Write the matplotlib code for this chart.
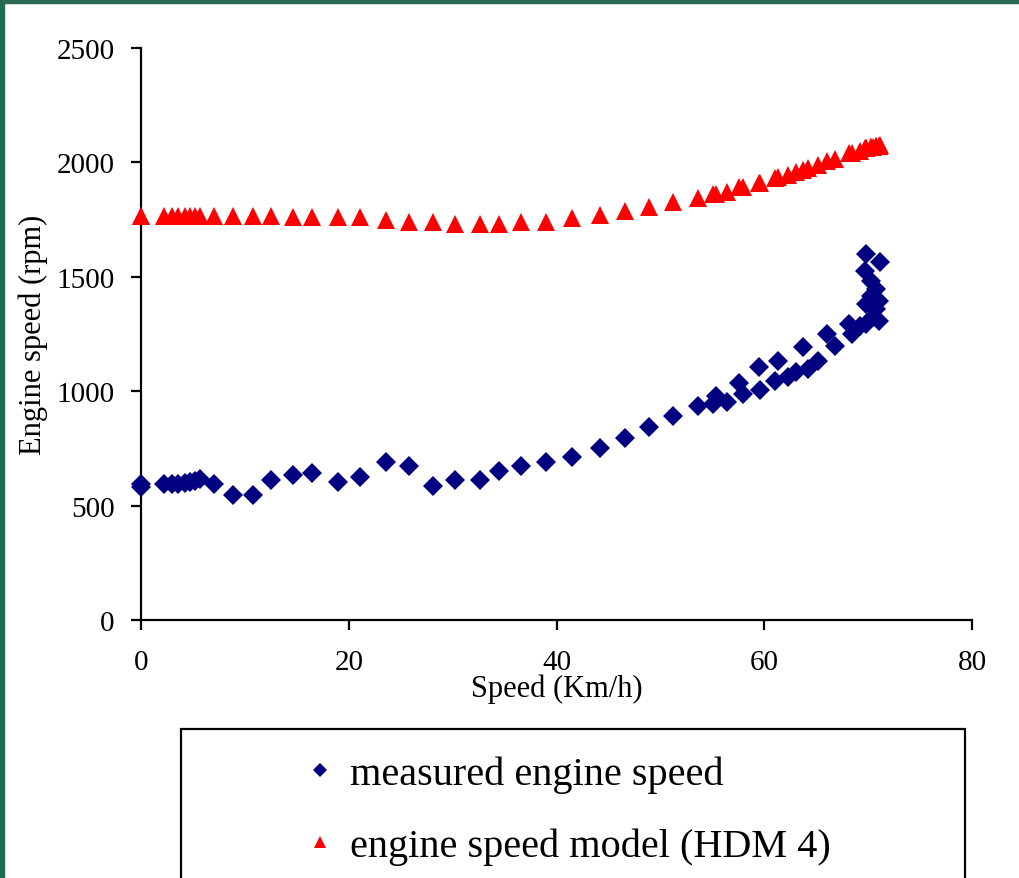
#!/usr/bin/python3
# -*- coding: utf-8 -*-
# Engine speed: measured vs HDM 4 model

import matplotlib
matplotlib.use("Agg")
import matplotlib.pyplot as plt
from matplotlib.patches import Rectangle

# Data
speed = [0, 0, 2.2, 3.0, 3.6, 4.2, 4.7, 5.2, 5.7, 7.0, 8.9, 10.8, 12.5, 14.6,
         16.5, 19.0, 21.1, 23.6, 25.8, 28.1, 30.2, 32.6, 34.5, 36.6, 39.0,
         41.5, 44.2, 46.6, 48.9, 51.2, 53.6, 55.1, 55.4, 56.4, 57.6, 58.0,
         59.5, 59.6, 61.0, 61.3, 62.3, 63.1, 63.7, 64.2, 65.2, 66.0, 66.8,
         68.2, 68.4, 69.2, 69.8, 70.5, 71.0, 70.8, 69.8, 71.0, 70.3, 70.8,
         70.3, 69.7, 71.1, 69.8]
measured = [580, 594, 596, 594, 594, 597, 602, 606, 616, 596, 548, 548, 612,
            634, 644, 605, 624, 689, 672, 584, 613, 613, 653, 672, 692, 711,
            750, 797, 845, 893, 935, 944, 980, 954, 1036, 988, 1104, 1007,
            1046, 1133, 1060, 1085, 1192, 1097, 1133, 1250, 1199, 1294, 1250,
            1286, 1294, 1323, 1308, 1359, 1381, 1396, 1417, 1447, 1483, 1527,
            1563, 1600]
model = [1765, 1765, 1765, 1765, 1765, 1765, 1765, 1765, 1765, 1765, 1764,
         1764, 1764, 1763, 1763, 1762, 1760, 1750, 1738, 1738, 1729, 1729,
         1729, 1738, 1738, 1759, 1768, 1787, 1806, 1825, 1843, 1862, 1864,
         1872, 1891, 1891, 1912, 1912, 1930, 1938, 1945, 1957, 1968, 1974,
         1989, 2008, 2015, 2041, 2041, 2051, 2062, 2068, 2072, 2070, 2062,
         2072, 2066, 2070, 2066, 2062, 2075, 2062]

labels = ["measured engine speed", "engine speed model (HDM 4)"]
xticks = [0, 20, 40, 60, 80]
yticks = [0, 500, 1000, 1500, 2000, 2500]

W, H = 1019, 879
plt.rcParams['font.family'] = ['Liberation Serif', 'DejaVu Serif']

fig = plt.figure(figsize=(W / 100, H / 100), dpi=100)
ax = fig.add_axes([141 / W, 1 - 621 / H, (972 - 141) / W, (621 - 49) / H])

l1, = ax.plot(speed, measured, linestyle='none', marker='D', ms=10,
              mew=0, color='#000080', clip_on=False, zorder=3)
l2, = ax.plot(speed, model, linestyle='none', marker='^', ms=12.5,
              mew=0, color='#ff0000', clip_on=False, zorder=3)

ax.set_xlim(0, 80)
ax.set_ylim(0, 2500)
ax.set_xticks(xticks)
ax.set_yticks(yticks)
for s in ['top', 'right']:
    ax.spines[s].set_visible(False)
for s in ['left', 'bottom']:
    ax.spines[s].set_linewidth(1.6)
ax.tick_params(axis='both', direction='out', length=7, width=1.6, labelsize=21)
ax.tick_params(axis='x', pad=14)
ax.tick_params(axis='y', pad=12)

ax.set_xlabel("Speed (Km/h)", fontsize=22, labelpad=-1)
ax.set_ylabel("Engine speed (rpm)", fontsize=22, labelpad=6)

# legend box
fig.patches.append(Rectangle((181 / W, -0.01), (965 - 181) / W, 0.01 + (879 - 730) / H,
                             transform=fig.transFigure, fill=False,
                             edgecolor='black', linewidth=1.6))
fig.legend([l1, l2], labels, loc='upper left', frameon=False,
           bbox_to_anchor=(300 / W, 1 - 757 / H), fontsize=29,
           markerscale=0.7, handlelength=1.0, handletextpad=0.25,
           labelspacing=0.85, borderpad=0, borderaxespad=0)

# green frame of the slide
fig.patches.append(Rectangle((0, 0), 4 / W, 1, transform=fig.transFigure,
                             color='#1f6b4e', zorder=10))
fig.patches.append(Rectangle((0, 1 - 4 / H), 1, 4 / H, transform=fig.transFigure,
                             color='#2a6a50', zorder=10))

fig.savefig("out.png", dpi=100)
